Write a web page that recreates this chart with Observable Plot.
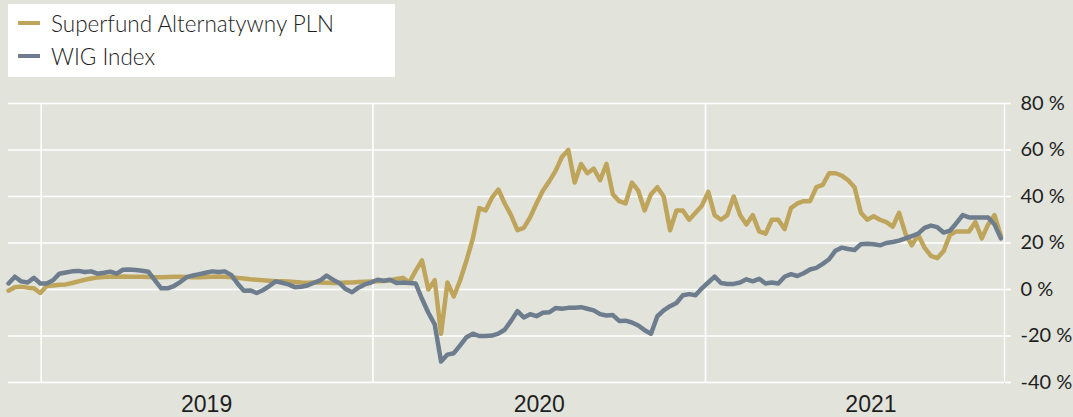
<!DOCTYPE html>
<html><head><meta charset="utf-8">
<script src="https://cdn.jsdelivr.net/npm/d3@7"></script>
<script src="https://cdn.jsdelivr.net/npm/@observablehq/plot@0.6"></script>
<style>
html,body{margin:0;padding:0;background:#e2e4dc;}
#wrap{position:relative;width:1073px;height:417px;overflow:hidden;}
#legend{position:absolute;left:8px;top:4px;width:387px;height:73px;background:#fff;font-family:Lato,sans-serif;font-weight:300;font-size:22.5px;color:#1e1e1e;}
.item{position:absolute;left:10px;height:30px;display:flex;align-items:center;white-space:nowrap;}
.sw{width:22px;height:4px;margin-right:11px;}
</style></head>
<body>
<div id="wrap">
  <div id="chart"></div>
  <div id="legend"></div>
</div>
<script>
// Weekly observations starting Monday 2018-11-26 (cumulative return, %)
const startDate = "2018-11-26";
const seriesNames = ["Superfund Alternatywny PLN", "WIG Index"];
const seriesColors = ["#bfa55b", "#6d7d8e"];
const superfund = [
  -0.5, 1, 1.2, 0.8, 0.5, -1.5, 1.5, 1.7, 2, 2.2,
  2.8, 3.5, 4.2, 4.7, 5.2, 5.4, 5.5, 5.5, 5.6, 5.5,
  5.5, 5.5, 5.4, 5.3, 5.3, 5.4, 5.5, 5.5, 5.4, 5.3,
  5.3, 5.4, 5.5, 5.6, 5.5, 5.3, 5.0, 4.7, 4.4, 4.2,
  4.0, 3.8, 3.6, 3.5, 3.4, 3.2, 3.0, 2.9, 3.0, 3.0,
  2.9, 2.8, 2.8, 3.0, 3.0, 3.2, 3.3, 3.4, 3.5, 3.7,
  4.0, 4.5, 5.0, 3.0, 8.0, 12.5, 0, 4, -19, 3,
  -3, 4, 12.5, 22, 35, 34, 39.5, 43, 37, 32,
  25.5, 26.5, 31, 37, 42.5, 46.5, 51, 57, 60, 46,
  54, 50, 52, 47, 54, 41, 38, 37, 46, 42.5,
  34, 41, 44, 40, 25.5, 34, 34, 30, 33, 36,
  42, 32, 30, 32, 40, 32, 28, 32, 25, 24,
  30, 30, 26, 35, 37, 38, 38, 44, 45, 50,
  50, 49, 47, 44, 33, 30, 31.5, 30, 29, 27,
  33, 24, 19, 23.5, 18, 14.5, 13.5, 16.5, 23.5, 25,
  25, 25, 29, 22, 28, 32, 23
];
const wig = [
  2.6, 5.5, 3.5, 3.0, 5.0, 2.6, 2.6, 4.0, 6.8, 7.3,
  7.8, 8.0, 7.5, 7.8, 6.8, 7.2, 7.7, 6.8, 8.5, 8.6,
  8.4, 8.1, 7.6, 4.0, 0.5, 0.5, 1.5, 3.2, 5.3, 6.0,
  6.6, 7.2, 7.8, 7.5, 7.8, 6.3, 2.6, -0.5, -0.4, -1.5,
  -0.3, 1.5, 3.5, 2.9, 2.2, 1.0, 1.2, 1.7, 2.9, 3.9,
  6.0, 4.2, 2.8, 0.2, -1.2, 0.8, 2.2, 3.0, 4.2, 3.8,
  4.2, 2.8, 3.0, 2.8, 2.6, -4, -10, -15, -31, -28,
  -27.4, -24, -20.5, -19, -20, -20, -19.8, -19, -17.3, -13.5,
  -9.3, -12, -10.6, -11.5, -10, -9.8, -8, -8.3, -7.9, -7.8,
  -7.6, -8.3, -9, -10.6, -11.2, -11, -13.5, -13.4, -14.2, -15.5,
  -17.5, -19, -11.5, -9, -7.2, -5.8, -2.5, -2, -2.5, 0.5,
  3, 5.5, 2.8, 2.4, 2.4, 3, 4.4, 3.5, 4.6, 2.6,
  3, 2.6, 5.5, 6.6, 5.8, 7.0, 8.6, 9.3, 11.0, 13.0,
  16.7, 18.0, 17.4, 17.0, 19.5, 19.7, 19.5, 19.0, 20.0, 20.4,
  21, 22, 23, 24, 26.5, 27.5, 26.8, 24.5, 25.3, 28.5,
  32, 31, 31, 31, 31, 28, 22
];
const xDomain = ["2018-11-26", "2021-11-26"];
const yTicks = [-40, -20, 0, 20, 40, 60, 80];
const yearLabels = [2019, 2020, 2021];

const t0 = d3.isoParse(startDate);
const toRows = (vals) => vals.map((v, i) => ({date: d3.utcDay.offset(t0, 7 * i), value: v}));
const goldRows = toRows(superfund);
const wigRows = toRows(wig);
const yearStarts = yearLabels.map(y => new Date(Date.UTC(y, 0, 1)));
const yearMids = yearLabels.map(y => new Date(Date.UTC(y, 6, 2)));
const dom = xDomain.map(d3.isoParse);

const chart = Plot.plot({
  width: 1073, height: 417,
  marginLeft: 8, marginRight: 69, marginTop: 103, marginBottom: 35,
  style: {background: "transparent", color: "#1e1e1e", fontFamily: "Lato, sans-serif", fontSize: "20px", overflow: "visible"},
  x: {type: "utc", domain: dom, axis: null},
  y: {domain: [-40, 80], axis: null},
  marks: [
    Plot.ruleY(yTicks, {stroke: "white", strokeWidth: 1.6}),
    Plot.ruleX(yearStarts, {stroke: "white", strokeWidth: 1.6}),
    Plot.ruleX([dom[1]], {stroke: "white", strokeWidth: 1.2}),
    Plot.line(goldRows, {x: "date", y: "value", stroke: seriesColors[0], strokeWidth: 4.5}),
    Plot.line(wigRows, {x: "date", y: "value", stroke: seriesColors[1], strokeWidth: 4.5}),
    Plot.axisY(yTicks, {anchor: "right", label: null, tickSize: 6, stroke: "white", strokeWidth: 1.6, tickPadding: 10, tickFormat: d => d + " %", fontSize: 20, fontWeight: 400}),
    Plot.axisX(yearMids, {anchor: "bottom", label: null, tickSize: 0, tickPadding: 13, tickFormat: d => String(d.getUTCFullYear()), fontFamily: "Liberation Sans Narrow, Liberation Sans, sans-serif", fontSize: 23, fontWeight: 400})
  ]
});
document.getElementById("chart").appendChild(chart);

const legend = document.getElementById("legend");
seriesNames.forEach((name, i) => {
  const it = document.createElement("div");
  it.className = "item";
  it.style.top = (4 + 33 * i) + "px";
  const sw = document.createElement("div");
  sw.className = "sw";
  sw.style.background = seriesColors[i];
  const tx = document.createElement("span");
  tx.textContent = name;
  it.appendChild(sw); it.appendChild(tx);
  legend.appendChild(it);
});
</script>
</body></html>
